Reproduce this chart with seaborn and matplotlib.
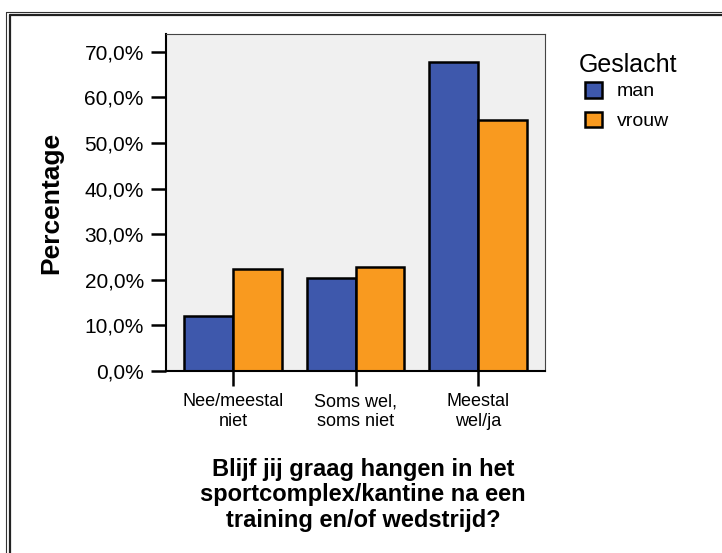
import pandas as pd
import matplotlib.pyplot as plt
from matplotlib.lines import Line2D
from matplotlib.patches import Patch
import seaborn as sns

# data
categories = ["Nee/meestal\nniet", "Soms wel,\nsoms niet", "Meestal\nwel/ja"]
genders = ["man", "vrouw"]
pct_man = [12.1, 20.3, 67.8]
pct_vrouw = [22.3, 22.9, 55.0]
yticks = [0, 10, 20, 30, 40, 50, 60, 70]
ytick_labels = ["0,0%", "10,0%", "20,0%", "30,0%", "40,0%", "50,0%", "60,0%", "70,0%"]
colors = ["#3E58AC", "#F99A1F"]

df = pd.DataFrame({
    "categorie": categories * 2,
    "geslacht": [genders[0]] * 3 + [genders[1]] * 3,
    "percentage": pct_man + pct_vrouw,
})

sns.set_style("white")
plt.rcParams["font.family"] = ["Liberation Sans", "DejaVu Sans"]
plt.rcParams["text.color"] = "black"
plt.rcParams["axes.labelcolor"] = "black"
plt.rcParams["xtick.color"] = "black"
plt.rcParams["ytick.color"] = "black"

fig = plt.figure(figsize=(7.22, 5.53), dpi=100)
ax = fig.add_axes([166 / 722, 1 - 371 / 553, 379 / 722, 337 / 553])
ax.set_facecolor("#F0F0F0")

sns.barplot(data=df, x="categorie", y="percentage", hue="geslacht",
            palette=colors, saturation=1, edgecolor="black", linewidth=1.8,
            width=0.8, gap=0, legend=False, ax=ax)

ax.set_xlim(-0.55, 2.55)
ax.set_ylim(0, 73.9)
ax.set_yticks(yticks)
ax.set_yticklabels(ytick_labels, fontsize=15)
ax.tick_params(axis="y", length=11, width=1.8, color="black", pad=5, left=True)
ax.tick_params(axis="x", length=11, width=1.8, color="black", pad=5,
               bottom=True, labelsize=13)

for side in ["left", "bottom"]:
    ax.spines[side].set_color("black")
    ax.spines[side].set_linewidth(1.5)
for side in ["top", "right"]:
    ax.spines[side].set_color("#444444")
    ax.spines[side].set_linewidth(0.8)

ax.set_ylabel("Percentage", fontsize=19, fontweight="bold")
ax.yaxis.set_label_coords(-0.27, 0.5)
ax.set_xlabel("Blijf jij graag hangen in het\nsportcomplex/kantine na een\ntraining en/of wedstrijd?",
              fontsize=17, fontweight="bold", linespacing=1.15)
ax.xaxis.set_label_coords(0.52, -0.257)

# legend title placed on its own, entries below it
fig.text(579 / 722, 1 - 65 / 553, "Geslacht", fontsize=18, va="center", ha="left")
handles = [Patch(facecolor=c, edgecolor="black", linewidth=1.8) for c in colors]
leg = fig.legend(handles, genders, loc="upper left",
                 bbox_to_anchor=(585 / 722, 1 - 82 / 553), frameon=False,
                 fontsize=14, borderpad=0, borderaxespad=0,
                 handlelength=0.85, handleheight=0.85, handletextpad=0.8,
                 labelspacing=0.57)

# double frame at top/left like the SPSS output window
fig.add_artist(Line2D([6 / 722, 6 / 722], [0, 1 - 12 / 553], transform=fig.transFigure,
                      color="#333333", linewidth=0.8))
fig.add_artist(Line2D([6 / 722, 1], [1 - 12 / 553, 1 - 12 / 553], transform=fig.transFigure,
                      color="#333333", linewidth=0.8))
fig.add_artist(Line2D([9.5 / 722, 9.5 / 722], [0, 1 - 14.5 / 553], transform=fig.transFigure,
                      color="#222222", linewidth=1.6))
fig.add_artist(Line2D([9.5 / 722, 1], [1 - 14.5 / 553, 1 - 14.5 / 553], transform=fig.transFigure,
                      color="#222222", linewidth=1.6))

fig.savefig("out.png", dpi=100, facecolor="white")
